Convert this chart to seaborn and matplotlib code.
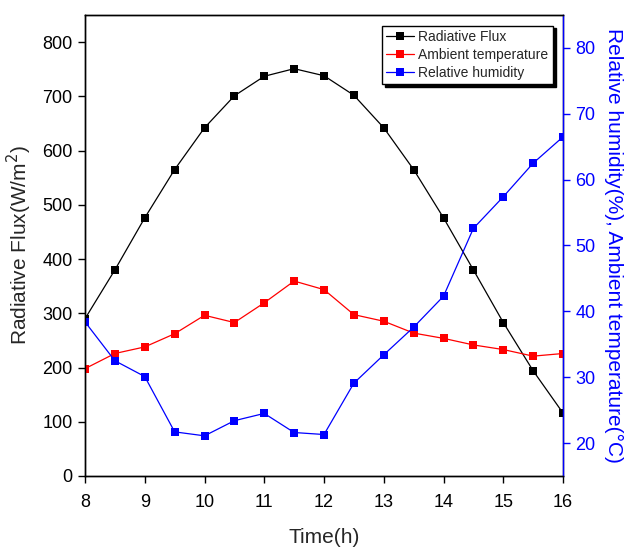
import matplotlib
matplotlib.use("Agg")
import matplotlib.pyplot as plt
import seaborn as sns

# data
time_h = [8, 8.5, 9, 9.5, 10, 10.5, 11, 11.5, 12, 12.5, 13, 13.5, 14, 14.5, 15, 15.5, 16]
radiative_flux = [290, 380, 476, 565, 642, 701, 737, 751, 738, 702, 642, 565, 476, 380, 283, 194, 116]
ambient_temp = [31.3, 33.6, 34.6, 36.6, 39.4, 38.3, 41.3, 44.6, 43.3, 39.5, 38.5, 36.7, 35.9, 34.9, 34.2, 33.2, 33.6]
rel_humidity = [38.4, 32.5, 30.1, 21.7, 21.1, 23.4, 24.5, 21.6, 21.3, 29.1, 33.4, 37.6, 42.3, 52.6, 57.4, 62.5, 66.5]

sns.set_style("ticks")
plt.rcParams["font.family"] = ["Liberation Sans", "DejaVu Sans"]

fig = plt.figure(figsize=(6.26, 5.47), dpi=100)
ax = fig.add_axes([0.1358, 0.1298, 0.7636, 0.8428])
ax2 = ax.twinx()

line_kw = dict(marker="s", markersize=6, linewidth=0.9, markeredgewidth=0)
sns.lineplot(x=time_h, y=radiative_flux, ax=ax, color="black", label="Radiative Flux", legend=False, **line_kw)
sns.lineplot(x=time_h, y=ambient_temp, ax=ax2, color="red", label="Ambient temperature", legend=False, **line_kw)
sns.lineplot(x=time_h, y=rel_humidity, ax=ax2, color="blue", label="Relative humidity", legend=False, **line_kw)

ax.set_xlim(8, 16)
ax.set_ylim(0, 850)
ax2.set_ylim(15, 85)
ax.set_xticks(range(8, 17))
ax.set_yticks(range(0, 801, 100))
ax2.set_yticks(range(20, 81, 10))

ax.set_xlabel("Time(h)", fontsize=15, labelpad=12)
ax.set_ylabel("Radiative Flux(W/m$^2$)", fontsize=15, labelpad=6)
ax2.set_ylabel("Relative humidity(%), Ambient temperature(\u00b0C)", fontsize=15,
               color="blue", rotation=270, labelpad=20)

for a in (ax, ax2):
    for s in a.spines.values():
        s.set_linewidth(1.0)
        s.set_color("black")
ax2.spines["right"].set_color("blue")
ax.tick_params(axis="both", direction="out", length=5, width=1, labelsize=13, colors="black", pad=4)
ax.tick_params(axis="x", pad=8)
ax2.tick_params(axis="y", direction="out", length=5, width=1, labelsize=13, colors="blue", pad=4)

h1, l1 = ax.get_legend_handles_labels()
h2, l2 = ax2.get_legend_handles_labels()
leg = ax2.legend(h1 + h2, l1 + l2, loc="upper right", bbox_to_anchor=(0.993, 0.992),
                 fontsize=10, frameon=True, fancybox=False, edgecolor="black", framealpha=1,
                 shadow={"color": "black", "alpha": 1, "ox": 2, "oy": -2},
                 handlelength=2.0, handletextpad=0.3, borderpad=0.3, labelspacing=0.3)
leg.get_frame().set_linewidth(1.0)

fig.savefig("out.png", dpi=100)
